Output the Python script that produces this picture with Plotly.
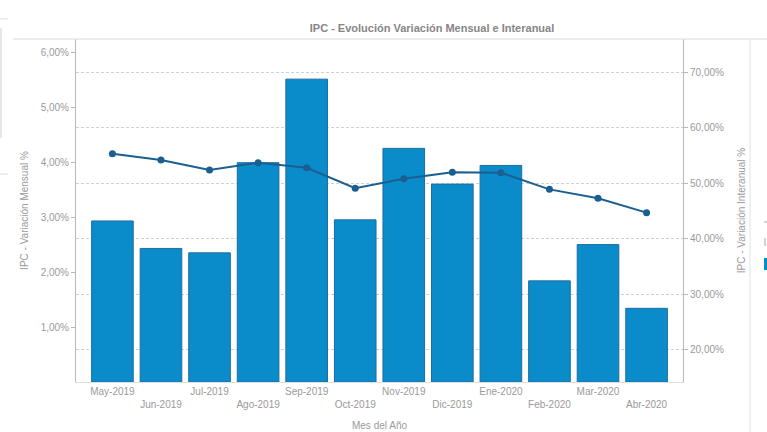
import plotly.graph_objects as go

categories = ["May-2019", "Jun-2019", "Jul-2019", "Ago-2019", "Sep-2019", "Oct-2019",
              "Nov-2019", "Dic-2019", "Ene-2020", "Feb-2020", "Mar-2020", "Abr-2020"]
mensual = [2.93, 2.43, 2.35, 3.99, 5.51, 2.95, 4.25, 3.60, 3.94, 1.84, 2.50, 1.34]
interanual = [55.3, 54.2, 52.4, 53.7, 52.8, 49.1, 50.8, 52.0, 51.9, 48.9, 47.3, 44.7]
left_ticks = [1, 2, 3, 4, 5, 6]
right_ticks = [20, 30, 40, 50, 60, 70]

W, H = 767, 432
ML, MR, MT, MB = 76, 84, 39, 50
PW, PH = W - ML - MR, H - MT - MB

def px(x):
    return (x - ML) / PW

def py(y):
    return (H - MB - y) / PH

def pct(v):
    return f"{v:.2f}".replace(".", ",") + "%"

FONT = "Liberation Sans"
GRAY = "#9a9a9a"

ticktext = [c if i % 2 == 0 else "<br>" + c for i, c in enumerate(categories)]

fig = go.Figure()
fig.add_trace(go.Bar(
    x=categories, y=mensual, name="IPC - Variación Mensual %",
    marker=dict(color="#0a8ccb", line=dict(color="#1d6d9c", width=1)),
    yaxis="y",
))
fig.add_trace(go.Scatter(
    x=categories, y=interanual, name="IPC - Variación Interanual %",
    mode="lines+markers",
    line=dict(color="#1b5f91", width=2),
    marker=dict(color="#1b5f91", size=7),
    yaxis="y2",
))

shapes = [
    dict(type="line", xref="paper", yref="paper", x0=px(13), x1=px(767), y0=py(39), y1=py(39),
         line=dict(color="#d8d8d8", width=1)),
    dict(type="line", xref="paper", yref="paper", x0=px(750), x1=px(750), y0=py(40), y1=py(432),
         line=dict(color="#e2e2e2", width=1)),
    dict(type="line", xref="paper", yref="paper", x0=px(1), x1=px(1), y0=py(28), y1=py(138),
         line=dict(color="#d0d0d0", width=1)),
    dict(type="line", xref="paper", yref="paper", x0=px(0), x1=px(8), y0=py(19), y1=py(19),
         line=dict(color="#dddddd", width=1)),
    dict(type="line", xref="paper", yref="paper", x0=px(0), x1=px(8), y0=py(174), y1=py(174),
         line=dict(color="#dddddd", width=1)),
    dict(type="rect", xref="paper", yref="paper", x0=px(764), x1=px(767), y0=py(258), y1=py(270),
         line=dict(width=0), fillcolor="#0a8ccb"),
    dict(type="line", xref="paper", yref="paper", x0=px(764), x1=px(767), y0=py(222), y1=py(222),
         line=dict(color="#aaaaaa", width=1)),
    dict(type="line", xref="paper", yref="paper", x0=px(765), x1=px(765), y0=py(238), y1=py(246),
         line=dict(color="#aaaaaa", width=1)),
]

fig.update_layout(
    width=W, height=H,
    margin=dict(l=ML, r=MR, t=MT, b=MB, autoexpand=False),
    paper_bgcolor="white", plot_bgcolor="white",
    showlegend=False,
    bargap=0.143,
    font=dict(family=FONT, size=10, color=GRAY),
    title=dict(text="IPC - Evolución Variación Mensual e Interanual",
               x=432 / W, xanchor="center", y=1 - 28 / H, yanchor="middle",
               font=dict(family=FONT, size=11, color="#868686", weight="bold")),
    xaxis=dict(
        type="category", range=[-0.75, 11.75], automargin=False,
        tickmode="array", tickvals=categories, ticktext=ticktext,
        showline=True, linecolor="#e0e0e0", linewidth=1,
        ticks="", showgrid=False,
        tickfont=dict(family=FONT, size=10, color=GRAY),
        title=dict(text="Mes del Año", standoff=12, font=dict(family=FONT, size=10, color=GRAY)),
        tickangle=0,
    ),
    yaxis=dict(
        range=[0, 6.24], automargin=False,
        tickmode="array", tickvals=left_ticks, ticktext=[pct(v) for v in left_ticks],
        showline=True, linecolor="#b8b8b8", linewidth=1,
        ticks="outside", ticklen=4, tickcolor="#b8b8b8",
        showgrid=False, zeroline=False,
        tickfont=dict(family=FONT, size=10, color=GRAY),
        title=dict(text="IPC - Variación Mensual %", standoff=10, font=dict(family=FONT, size=10, color=GRAY)),
    ),
    yaxis2=dict(
        range=[14.18, 76.0], overlaying="y", side="right", automargin=False,
        tickmode="array", tickvals=right_ticks, ticktext=[pct(v) for v in right_ticks],
        showline=True, linecolor="#b8b8b8", linewidth=1,
        ticks="outside", ticklen=4, tickcolor="#b8b8b8",
        showgrid=True, gridcolor="#d0d0d0", griddash="3px,2px", gridwidth=1,
        zeroline=False,
        tickfont=dict(family=FONT, size=10, color=GRAY),
        title=dict(text="IPC - Variación Interanual %", standoff=14, font=dict(family=FONT, size=10, color=GRAY)),
    ),
    shapes=shapes,
    hovermode=False,
)

fig.write_html("out.html")
